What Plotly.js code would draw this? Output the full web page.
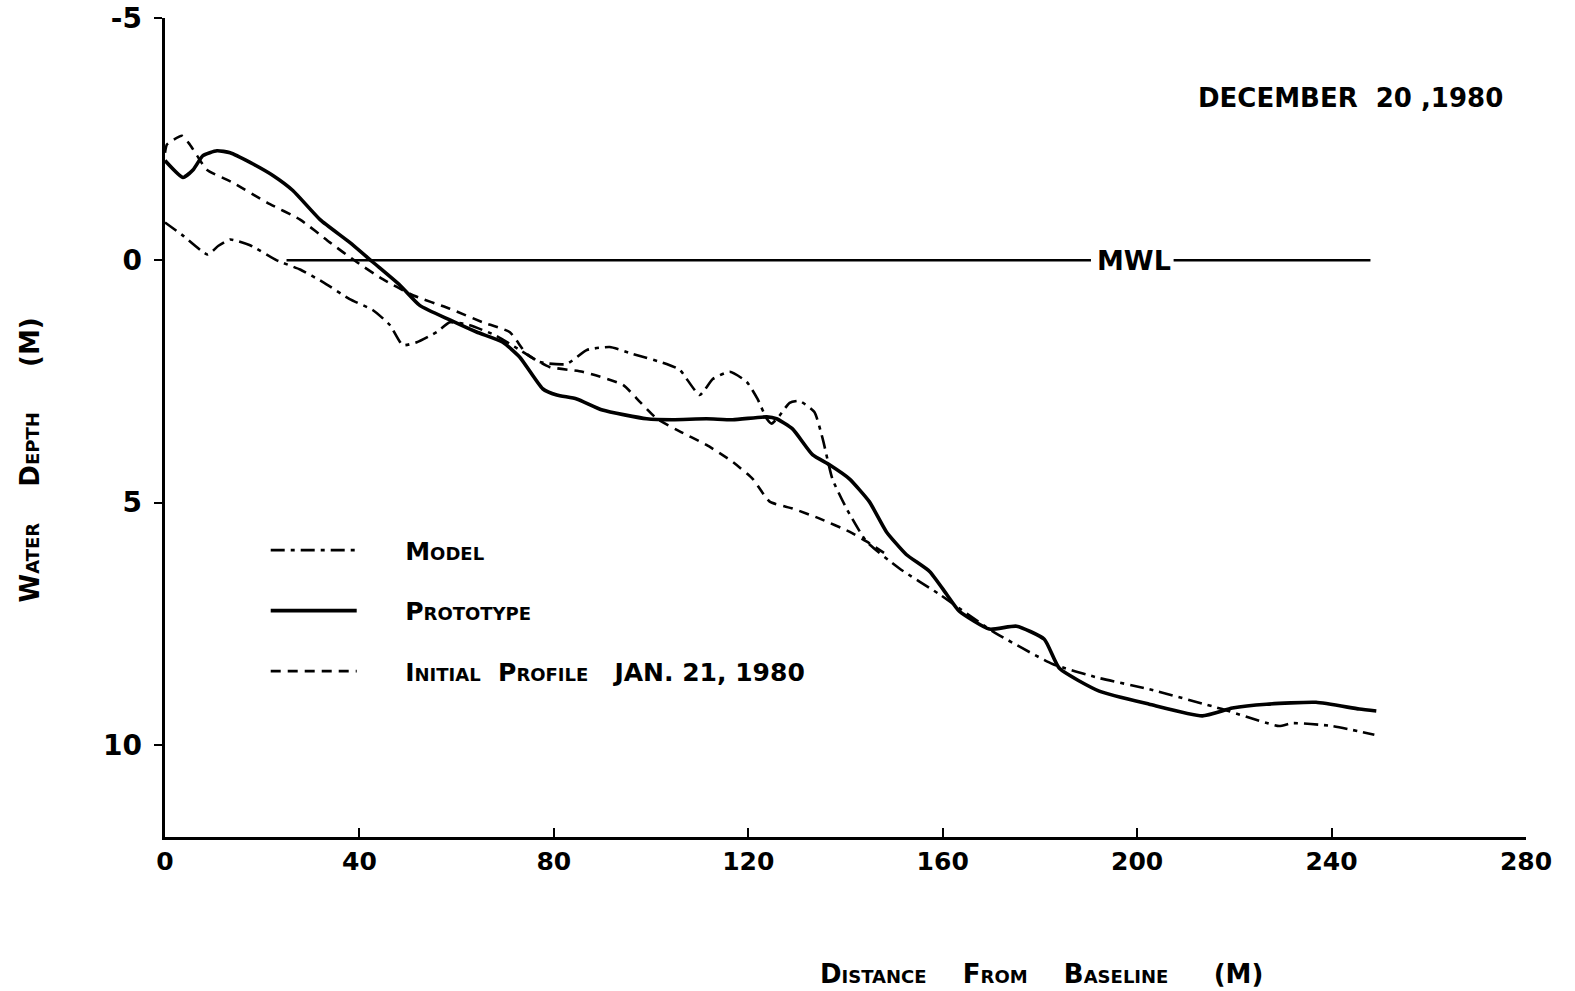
<!DOCTYPE html>
<html>
<head>
<meta charset="utf-8">
<script src="https://cdn.plot.ly/plotly-3.0.1.min.js"></script>
<style>
  html, body { margin: 0; padding: 0; background: #fff; }
  #chart { width: 1575px; height: 991px; }
</style>
</head>
<body>
<div id="chart"></div>
<script>
// Distance from baseline (m) and water depth (m)
const protoX = [0, 3.7, 5.8, 7.8, 10.7, 13.4, 17.5, 22.2, 26.3, 31.9, 38, 42.8, 48.3, 52.4, 58.6, 64.1, 69.5, 73, 77.7, 80.6, 84.7, 90, 99.1, 104.4, 111.4, 116.8, 123.8, 125.8, 129.1, 133.2, 136.7, 140.8, 144.9, 148.4, 152.5, 157.3, 160.8, 163.4, 169.6, 175.2, 180.9, 184, 192.2, 202.5, 213.4, 219.6, 226.6, 236.8, 245.7, 249.2];
const protoY = [-2.06, -1.71, -1.87, -2.16, -2.26, -2.22, -2.02, -1.75, -1.44, -0.84, -0.37, 0.04, 0.51, 0.93, 1.23, 1.48, 1.69, 2.0, 2.65, 2.78, 2.86, 3.09, 3.27, 3.29, 3.27, 3.29, 3.23, 3.27, 3.48, 4.01, 4.22, 4.51, 4.98, 5.6, 6.07, 6.42, 6.89, 7.24, 7.61, 7.55, 7.82, 8.42, 8.89, 9.16, 9.40, 9.24, 9.16, 9.12, 9.26, 9.30];

const modelX = [0, 3.7, 8.8, 11, 13.4, 17.5, 23, 27.8, 32.5, 38, 42.8, 46.3, 48.9, 51.8, 55.9, 58.6, 62.7, 68, 73, 77.1, 82.6, 86.8, 91.5, 96.2, 103.2, 105.9, 110, 112.7, 116.2, 119.7, 121.9, 123.8, 124.8, 126.4, 128.5, 130.5, 133.6, 135.3, 137.3, 140.2, 144.3, 151.1, 159.3, 170.2, 182.6, 192.2, 202.5, 217.5, 229.2, 231.9, 240.1, 248.8];
const modelY = [-0.78, -0.51, -0.12, -0.3, -0.43, -0.31, 0, 0.19, 0.45, 0.8, 1.03, 1.34, 1.75, 1.69, 1.48, 1.28, 1.34, 1.55, 1.85, 2.1, 2.14, 1.85, 1.79, 1.93, 2.14, 2.26, 2.78, 2.45, 2.3, 2.51, 2.86, 3.27, 3.37, 3.21, 2.94, 2.9, 3.13, 3.68, 4.51, 5.12, 5.8, 6.36, 6.89, 7.65, 8.33, 8.62, 8.85, 9.26, 9.61, 9.55, 9.61, 9.79];

const initX = [0, 0.4, 3.5, 5.1, 6.6, 8.6, 14, 21, 27.8, 33.9, 39.5, 44.8, 51, 58.6, 65.4, 70.9, 74.4, 79.1, 85.9, 94.2, 97.7, 101.2, 105.3, 111.4, 116.8, 120.9, 124.4, 129.1, 134.7, 140.8, 144.3, 148.4];
const initY = [-2.22, -2.39, -2.57, -2.39, -2.16, -1.87, -1.6, -1.19, -0.84, -0.37, 0.04, 0.39, 0.72, 1.0, 1.28, 1.48, 1.93, 2.2, 2.3, 2.57, 2.92, 3.27, 3.5, 3.81, 4.16, 4.51, 4.98, 5.12, 5.33, 5.6, 5.8, 6.07];

// Mean water level line (broken around its label)
const mwlX = [25, 190.5, null, 207.5, 248];
const mwlY = [0, 0, null, 0, 0];
const mwlLabelX = 199.3;

const xTicks = [0, 40, 80, 120, 160, 200, 240, 280];
const yTicks = [-5, 0, 5, 10];

const PAD = '\u00a0\u00a0\u00a0\u00a0\u00a0';
const labels = {
  model: PAD + 'Model',
  proto: PAD + 'Prototype',
  init: PAD + 'Initial  Profile   JAN. 21, 1980',
  date: 'DECEMBER  20 ,1980',
  xTitle: 'Distance    From    Baseline     (M)',
  yTitle: 'Water    Depth     (M)',
  mwl: 'MWL'
};

const FONT = 'DejaVu Sans, Liberation Sans, sans-serif';

const traces = [
  {
    x: modelX, y: modelY, name: labels.model, mode: 'lines', legendgroup: 'a',
    line: { color: '#000', width: 2.6, dash: '14px,6px,4px,6px', shape: 'spline', smoothing: 0.5 }
  },
  {
    x: protoX, y: protoY, name: labels.proto, mode: 'lines', legendgroup: 'b',
    line: { color: '#000', width: 3.6, shape: 'spline', smoothing: 0.5 }
  },
  {
    x: initX, y: initY, name: labels.init, mode: 'lines', legendgroup: 'c',
    line: { color: '#000', width: 2.6, dash: '10px,7px', shape: 'spline', smoothing: 0.5 }
  },
  {
    x: mwlX, y: mwlY, mode: 'lines', showlegend: false, hoverinfo: 'skip',
    line: { color: '#000', width: 2.4 }
  }
];

const layout = {
  width: 1575, height: 991,
  margin: { l: 165, r: 49, t: 18, b: 154 },
  paper_bgcolor: '#fff', plot_bgcolor: '#fff',
  showlegend: true,
  legend: {
    x: 0.074, y: 0.378, xanchor: 'left', yanchor: 'top',
    bgcolor: 'rgba(0,0,0,0)', borderwidth: 0,
    tracegroupgap: 25, itemwidth: 86,
    font: { family: FONT, size: 25, color: '#000', weight: 'bold', variant: 'small-caps' }
  },
  xaxis: {
    range: [0, 280], tickvals: xTicks, ticktext: xTicks.map(String),
    showgrid: false, zeroline: false, showline: true, linecolor: '#000', linewidth: 3,
    ticks: 'inside', ticklen: 9, tickwidth: 2, tickcolor: '#000',
    tickfont: { family: FONT, size: 25, color: '#000', weight: 'bold' },
    fixedrange: true
  },
  yaxis: {
    range: [11.9, -5], tickvals: yTicks, ticktext: yTicks.map(String),
    showgrid: false, zeroline: false, showline: true, linecolor: '#000', linewidth: 3.5,
    ticks: 'outside', ticklen: 8, tickwidth: 2, tickcolor: '#000',
    tickfont: { family: FONT, size: 28, color: '#000', weight: 'bold' },
    ticklabelstandoff: 6,
    fixedrange: true
  },
  annotations: [
    {
      xref: 'paper', yref: 'paper', x: 0.871, y: 0.902, showarrow: false,
      text: labels.date, xanchor: 'center', yanchor: 'middle',
      font: { family: FONT, size: 26, color: '#000', weight: 'bold' }
    },
    {
      xref: 'paper', yref: 'paper', x: 0.644, y: -0.167, showarrow: false,
      text: labels.xTitle, xanchor: 'center', yanchor: 'middle',
      font: { family: FONT, size: 26, color: '#000', weight: 'bold', variant: 'small-caps' }
    },
    {
      xref: 'paper', yref: 'paper', x: -0.099, y: 0.46, showarrow: false,
      text: labels.yTitle, textangle: -90, xanchor: 'center', yanchor: 'middle',
      font: { family: FONT, size: 26, color: '#000', weight: 'bold', variant: 'small-caps' }
    },
    {
      xref: 'x', yref: 'y', x: mwlLabelX, y: 0, showarrow: false,
      text: labels.mwl, xanchor: 'center', yanchor: 'middle',
      font: { family: FONT, size: 27, color: '#000', weight: 'bold' }
    }
  ]
};

Plotly.newPlot('chart', traces, layout, { displayModeBar: false, staticPlot: true });
</script>
</body>
</html>
